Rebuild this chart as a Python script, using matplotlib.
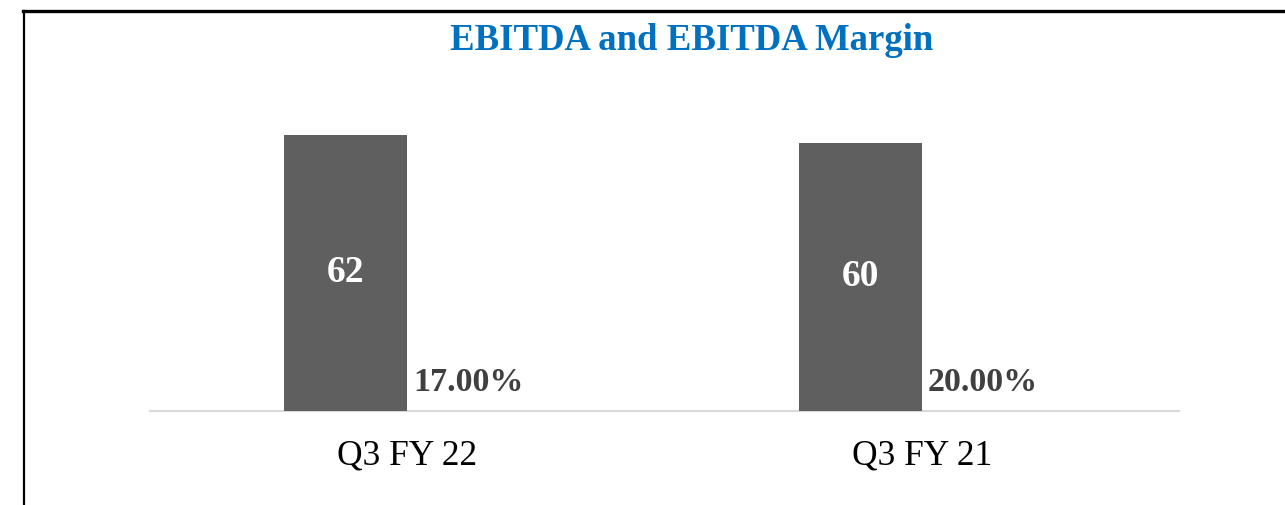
import matplotlib
matplotlib.use("Agg")
import matplotlib.pyplot as plt
from matplotlib.lines import Line2D

categories = ["Q3 FY 22", "Q3 FY 21"]
ebitda = [62, 60]
margin = [17.00, 20.00]
title = "EBITDA and EBITDA Margin"

plt.rcParams['font.family'] = ['Liberation Serif', 'DejaVu Serif']

W, H = 1285, 505
fig = plt.figure(figsize=(W / 100, H / 100), dpi=100)

# frame lines (top and left)
fig.add_artist(Line2D([23 / W, 1], [1 - 10.5 / H, 1 - 10.5 / H], color='black', lw=2.4, transform=fig.transFigure))
fig.add_artist(Line2D([23.5 / W, 23.5 / W], [0, 1 - 10.5 / H], color='black', lw=1.6, transform=fig.transFigure))

ax_left, ax_right = 150, 1179
ax_bottom_px = 410.5
ymax = 70
px_per_unit = (410.5 - 134.5) / 62
ax_top_px = ax_bottom_px - ymax * px_per_unit
ax = fig.add_axes([ax_left / W, 1 - ax_bottom_px / H, (ax_right - ax_left) / W, (ax_bottom_px - ax_top_px) / H])

x = list(range(len(categories)))
w = 0.239
bars = ax.bar([i - w / 2 for i in x], ebitda, width=w, color='#5f5f5f', zorder=3)
for b, v in zip(bars, ebitda):
    ax.text(b.get_x() + b.get_width() / 2, v / 2, f"{v}", ha='center', va='center',
            color='white', fontsize=27, fontweight='bold')
for i, m in zip(x, margin):
    ax.annotate(f"{m:.2f}%", xy=(i + w / 2, 0.0), xytext=(0, 14), textcoords='offset points',
                ha='center', va='baseline', color='#404040', fontsize=24.5, fontweight='bold')

ax.set_xlim(-0.5, len(categories) - 0.5)
ax.set_ylim(0, ymax)
ax.set_xticks(x)
ax.set_xticklabels(categories, fontsize=25.5)
ax.tick_params(axis='x', length=0, pad=21, colors='black')
ax.set_yticks([])
for s in ['top', 'right', 'left']:
    ax.spines[s].set_visible(False)
ax.spines['bottom'].set_color('#d9d9d9')
ax.spines['bottom'].set_linewidth(1.5)
ax.patch.set_alpha(0)

fig.text(692 / W, 1 - 50 / H, title, ha='center', va='baseline', color='#0070C0',
         fontsize=26.5, fontweight='bold')

fig.savefig("out.png", dpi=100)
